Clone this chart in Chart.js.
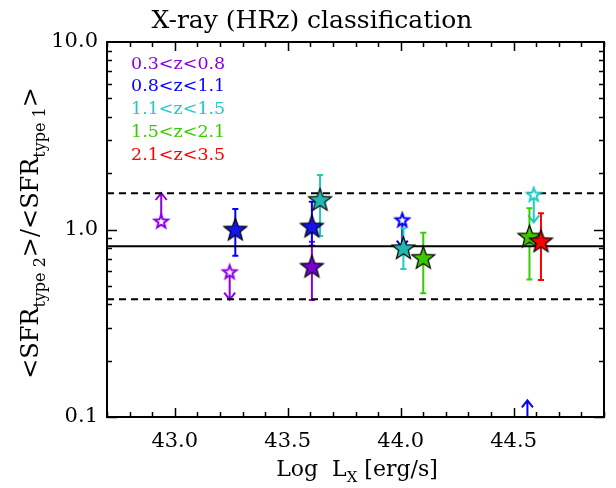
<!DOCTYPE html>
<html>
<head>
<meta charset="utf-8">
<title>X-ray (HRz) classification</title>
<script src="https://cdn.jsdelivr.net/npm/chart.js@4.4.1/dist/chart.umd.min.js"></script>
<style>
    html, body { margin: 0; padding: 0; background: #ffffff; }
    canvas { display: block; }
</style>
</head>
<body>
<canvas id="sfrChart" width="616" height="488"></canvas>
<script>
/* ========================================
   SFR ratio of type 2 / type 1 hosts
   vs. hard X-ray luminosity, by redshift bin
   ======================================== */

// axes
const xMin = 42.7;
const xMax = 44.9;
const xTicks = [43.0, 43.5, 44.0, 44.5];
const yMin = 0.1;
const yMax = 10.0;
const yTicks = [0.1, 1.0, 10.0];
const yTickLabels = ['0.1', '1.0', '10.0'];

// redshift bins
const zBins = ['0.3<z<0.8', '0.8<z<1.1', '1.1<z<1.5', '1.5<z<2.1', '2.1<z<3.5'];
const binColors = ['#8A00E6', '#0000FF', '#1FC9C9', '#36CC00', '#FF0000'];
const starFills = ['#7400D0', '#1515E8', '#22B8B0', '#3CC800', '#FF0000'];

// measured ratios (filled stars) with error ranges
const lxZ1 = [43.607];
const ratioZ1 = [0.638];
const loZ1 = [0.421];
const hiZ1 = [0.861];

const lxZ2 = [43.268, 43.607];
const ratioZ2 = [1.006, 1.044];
const loZ2 = [0.725, 0.82];
const hiZ2 = [1.286, 1.407];

const lxZ3 = [43.643, 44.012];
const ratioZ3 = [1.449, 0.80];
const loZ3 = [0.923, 0.616];
const hiZ3 = [1.952, 1.015];

const lxZ4 = [44.10, 44.570];
const ratioZ4 = [0.711, 0.923];
const loZ4 = [0.457, 0.542];
const hiZ4 = [0.961, 1.297];

const lxZ5 = [44.621];
const ratioZ5 = [0.871];
const loZ5 = [0.538];
const hiZ5 = [1.22];

// limits (open stars + arrows): 1 = lower limit, -1 = upper limit
const limLxZ1 = [42.940, 43.243];
const limRatioZ1 = [1.11, 0.596];
const limDirZ1 = [1, -1];

const limLxZ2 = [44.007, 44.561];
const limRatioZ2 = [1.128, 0.087];
const limDirZ2 = [-1, 1];

const limLxZ3 = [44.589];
const limRatioZ3 = [1.541];
const limDirZ3 = [-1];

// mean ratio and its scatter
const meanRatio = 0.814;
const scatterBand = [0.425, 1.56];

const bins = [
    { x: lxZ1, y: ratioZ1, lo: loZ1, hi: hiZ1, limX: limLxZ1, limY: limRatioZ1, limDir: limDirZ1 },
    { x: lxZ2, y: ratioZ2, lo: loZ2, hi: hiZ2, limX: limLxZ2, limY: limRatioZ2, limDir: limDirZ2 },
    { x: lxZ3, y: ratioZ3, lo: loZ3, hi: hiZ3, limX: limLxZ3, limY: limRatioZ3, limDir: limDirZ3 },
    { x: lxZ4, y: ratioZ4, lo: loZ4, hi: hiZ4, limX: [], limY: [], limDir: [] },
    { x: lxZ5, y: ratioZ5, lo: loZ5, hi: hiZ5, limX: [], limY: [], limDir: [] }
];

const SERIF = '"DejaVu Serif", "Liberation Serif", serif';
const ARROW_LEN = 28;

/**
 * Five-pointed star drawn on its own canvas, used as pointStyle
 */
function makeStar(fill, stroke, R, lineWidth) {
    const size = Math.ceil(2 * R + 2 * lineWidth + 2);
    const c = document.createElement('canvas');
    c.width = size;
    c.height = size;
    const ctx = c.getContext('2d');
    const cx = size / 2, cy = size / 2 + R * 0.1;
    const r = R * 0.42;
    ctx.beginPath();
    for (let i = 0; i < 10; i++) {
        const a = -Math.PI / 2 + i * Math.PI / 5;
        const rad = i % 2 ? r : R;
        const px = cx + rad * Math.cos(a), py = cy + rad * Math.sin(a);
        if (i === 0) ctx.moveTo(px, py); else ctx.lineTo(px, py);
    }
    ctx.closePath();
    ctx.fillStyle = fill;
    ctx.fill();
    ctx.lineJoin = 'miter';
    ctx.lineWidth = lineWidth;
    ctx.strokeStyle = stroke;
    ctx.stroke();
    return c;
}

const filledStars = starFills.map(f => makeStar(f, '#000000', 12, 1.2));
const openStars = binColors.map(c => makeStar('#ffffff', c, 7, 2));

/**
 * Draw a string made of normal and subscript pieces, centred on x
 */
function drawRichText(ctx, parts, x, y, size, subSize) {
    let total = 0;
    parts.forEach(p => {
        ctx.font = `${p.sub ? subSize : size}px ${SERIF}`;
        p.w = ctx.measureText(p.text).width;
        total += p.w;
    });
    let cx = x - total / 2;
    parts.forEach(p => {
        ctx.font = `${p.sub ? subSize : size}px ${SERIF}`;
        ctx.fillText(p.text, cx, p.sub ? y + size * 0.28 : y);
        cx += p.w;
    });
}

// error bars and limit arrows, under the stars
const errorBarPlugin = {
    id: 'errorBars',
    beforeDatasetsDraw(chart) {
        const { ctx, chartArea: a } = chart;
        const xs = chart.scales.x, ys = chart.scales.y;
        ctx.save();
        ctx.beginPath();
        ctx.rect(a.left, a.top, a.right - a.left, a.bottom - a.top);
        ctx.clip();
        ctx.lineWidth = 2;
        bins.forEach((b, i) => {
            ctx.strokeStyle = binColors[i];
            b.x.forEach((v, k) => {
                const px = xs.getPixelForValue(v);
                const top = ys.getPixelForValue(b.hi[k]);
                const bot = ys.getPixelForValue(b.lo[k]);
                ctx.beginPath();
                ctx.moveTo(px, top); ctx.lineTo(px, bot);
                ctx.moveTo(px - 3, top); ctx.lineTo(px + 3, top);
                ctx.moveTo(px - 3, bot); ctx.lineTo(px + 3, bot);
                ctx.stroke();
            });
            b.limX.forEach((v, k) => {
                const px = xs.getPixelForValue(v);
                const py = ys.getPixelForValue(b.limY[k]);
                const tip = py - b.limDir[k] * ARROW_LEN;
                const head = b.limDir[k] * 7;
                ctx.beginPath();
                ctx.moveTo(px, py); ctx.lineTo(px, tip);
                ctx.moveTo(px - 5.5, tip + head); ctx.lineTo(px, tip); ctx.lineTo(px + 5.5, tip + head);
                ctx.stroke();
            });
        });
        ctx.restore();
    }
};

// IDL-style frame: box, inward ticks, title, axis titles, legend
const framePlugin = {
    id: 'frame',
    afterDraw(chart) {
        const { ctx, chartArea: a } = chart;
        const xs = chart.scales.x, ys = chart.scales.y;
        ctx.save();
        ctx.strokeStyle = '#000000';
        ctx.lineWidth = 2;
        ctx.strokeRect(a.left, a.top, a.right - a.left, a.bottom - a.top);

        ctx.lineWidth = 1.5;
        ctx.beginPath();
        for (let v = Math.ceil(xMin * 10) / 10; v <= xMax + 1e-9; v += 0.1) {
            const major = xTicks.some(t => Math.abs(t - v) < 1e-6);
            const len = major ? 9 : 5;
            const px = Math.round(xs.getPixelForValue(v)) + 0.5;
            ctx.moveTo(px, a.bottom); ctx.lineTo(px, a.bottom - len);
            ctx.moveTo(px, a.top); ctx.lineTo(px, a.top + len);
        }
        for (let e = -1; e <= 0; e++) {
            for (let k = 1; k <= 9; k++) {
                const v = k * Math.pow(10, e);
                const len = k === 1 ? 10 : 5;
                const py = Math.round(ys.getPixelForValue(v)) + 0.5;
                ctx.moveTo(a.left, py); ctx.lineTo(a.left + len, py);
                ctx.moveTo(a.right, py); ctx.lineTo(a.right - len, py);
            }
        }
        ctx.stroke();

        ctx.fillStyle = '#000000';
        ctx.textBaseline = 'alphabetic';
        ctx.textAlign = 'left';

        // title
        drawRichText(ctx, [{ text: 'X-ray (HRz) classification' }], 312, 28, 25, 16);

        // x axis title
        drawRichText(ctx, [
            { text: 'Log  L' },
            { text: 'X', sub: true },
            { text: ' [erg/s]' }
        ], 357, 476, 22, 15);

        // y axis title, rotated
        ctx.save();
        ctx.translate(38, 233);
        ctx.rotate(-Math.PI / 2);
        drawRichText(ctx, [
            { text: '<SFR' },
            { text: 'type 2', sub: true },
            { text: '>/<SFR' },
            { text: 'type 1', sub: true },
            { text: '>' }
        ], 0, 0, 24, 16);
        ctx.restore();

        // redshift legend
        ctx.font = `17.5px ${SERIF}`;
        ctx.textBaseline = 'middle';
        zBins.forEach((label, i) => {
            ctx.fillStyle = binColors[i];
            ctx.fillText(label, 131, 64 + i * 22.8);
        });
        ctx.restore();
    }
};

const refLine = (y, dash) => ({
    type: 'line',
    data: [{ x: xMin, y }, { x: xMax, y }],
    borderColor: '#000000',
    borderWidth: 2,
    borderDash: dash,
    pointRadius: 0,
    order: 20
});

const datasets = [
    refLine(meanRatio, []),
    refLine(scatterBand[0], [7, 5]),
    refLine(scatterBand[1], [7, 5])
];

bins.forEach((b, i) => {
    datasets.push({
        label: zBins[i],
        data: b.x.map((v, k) => ({ x: v, y: b.y[k] })),
        pointStyle: filledStars[i],
        pointRadius: 11,
        order: 5 - i
    });
    datasets.push({
        label: zBins[i] + ' limits',
        data: b.limX.map((v, k) => ({ x: v, y: b.limY[k] })),
        pointStyle: openStars[i],
        pointRadius: 6,
        order: 10
    });
});

new Chart(document.getElementById('sfrChart'), {
    type: 'scatter',
    data: { datasets },
    plugins: [errorBarPlugin, framePlugin],
    options: {
        responsive: false,
        animation: false,
        events: [],
        layout: { padding: { top: 42, right: 7, left: 0, bottom: 0 } },
        plugins: {
            legend: { display: false },
            tooltip: { enabled: false }
        },
        scales: {
            x: {
                type: 'linear',
                min: xMin,
                max: xMax,
                afterBuildTicks: axis => { axis.ticks = xTicks.map(v => ({ value: v })); },
                afterFit: axis => { axis.height = 71; },
                grid: { display: false, drawTicks: false },
                border: { display: false },
                ticks: {
                    padding: 12,
                    color: '#000000',
                    font: { family: SERIF, size: 21 },
                    callback: v => v.toFixed(1)
                }
            },
            y: {
                type: 'logarithmic',
                min: yMin,
                max: yMax,
                afterBuildTicks: axis => { axis.ticks = yTicks.map(v => ({ value: v })); },
                afterFit: axis => { axis.width = 107; },
                grid: { display: false, drawTicks: false },
                border: { display: false },
                ticks: {
                    padding: 9,
                    color: '#000000',
                    font: { family: SERIF, size: 21 },
                    callback: v => yTickLabels[yTicks.indexOf(v)]
                }
            }
        }
    }
});
</script>
</body>
</html>
